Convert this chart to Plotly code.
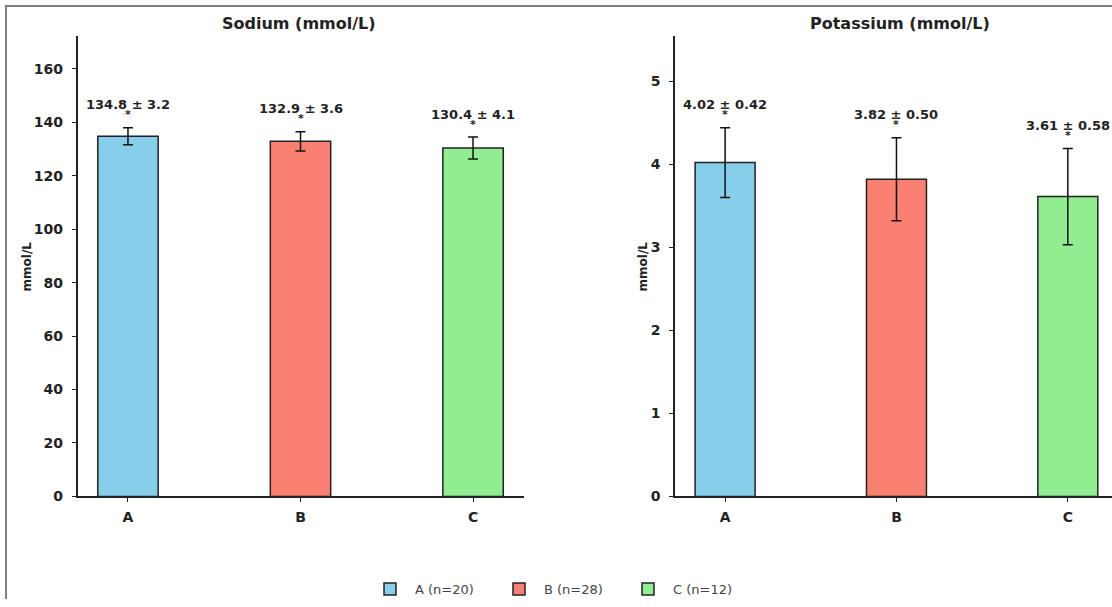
import plotly.graph_objects as go

groups = ["A", "B", "C"]
group_labels = ["A (n=20)", "B (n=28)", "C (n=12)"]
colors = ["#87CEEB", "#FA8072", "#90EE90"]

sodium_mean = [134.8, 132.9, 130.4]
sodium_sd = [3.2, 3.6, 4.1]
potassium_mean = [4.02, 3.82, 3.61]
potassium_sd = [0.42, 0.50, 0.58]

sodium_ticks = [0, 20, 40, 60, 80, 100, 120, 140, 160]
potassium_ticks = [0, 1, 2, 3, 4, 5]

W, H = 1112, 607
FONT = "DejaVu Sans"
DARK = "#222222"

fig = go.Figure()
xs = list(range(len(groups)))

def add_panel(means, sds, xa, ya, show):
    for i, g in enumerate(groups):
        fig.add_trace(go.Bar(
            x=[xs[i]], y=[means[i]], width=0.35,
            marker=dict(color=colors[i], line=dict(color=DARK, width=1.5)),
            error_y=dict(type="data", array=[sds[i]], color="#111111", thickness=1.5, width=5),
            name=group_labels[i], showlegend=show, legendgroup=g,
            xaxis=xa, yaxis=ya, hoverinfo="skip"))

add_panel(sodium_mean, sodium_sd, "x", "y", True)
add_panel(potassium_mean, potassium_sd, "x2", "y2", False)

na_top = max(m + s for m, s in zip(sodium_mean, sodium_sd)) * 1.25
k_top = max(m + s for m, s in zip(potassium_mean, potassium_sd)) * 1.25

annotations = []
def labels(means, sds, xref, yref, top, fmt):
    for i in xs:
        y0 = means[i] + sds[i]
        annotations.append(dict(x=i, y=y0 + 0.05 * top, xref=xref, yref=yref,
                                text=f"{means[i]:{fmt}} ± {sds[i]:{fmt}}", showarrow=False,
                                font=dict(family=FONT, size=13, color=DARK, weight="bold"),
                                xanchor="center", yanchor="middle"))
        annotations.append(dict(x=i, y=y0 + 0.028 * top, xref=xref, yref=yref,
                                text="*", showarrow=False,
                                font=dict(family=FONT, size=11, color=DARK, weight="bold"),
                                xanchor="center", yanchor="middle"))

labels(sodium_mean, sodium_sd, "x", "y", na_top, ".1f")
labels(potassium_mean, potassium_sd, "x2", "y2", k_top, ".2f")

# panel titles
annotations.append(dict(x=299 / W, y=1 - 24 / H, xref="paper", yref="paper", text="Sodium (mmol/L)",
                        showarrow=False, font=dict(family=FONT, size=16, color=DARK, weight="bold"),
                        xanchor="center", yanchor="middle"))
annotations.append(dict(x=900 / W, y=1 - 24 / H, xref="paper", yref="paper", text="Potassium (mmol/L)",
                        showarrow=False, font=dict(family=FONT, size=16, color=DARK, weight="bold"),
                        xanchor="center", yanchor="middle"))
for xp in (27, 643):
    annotations.append(dict(x=xp / W, y=1 - 270 / H, xref="paper", yref="paper", text="mmol/L",
                            showarrow=False, textangle=-90,
                            font=dict(family=FONT, size=12, color=DARK, weight="bold"),
                            xanchor="center", yanchor="middle"))

axis_common = dict(showline=True, linecolor=DARK, linewidth=1.5, ticks="outside",
                   ticklen=4, tickwidth=1.2, tickcolor=DARK, showgrid=False, zeroline=False,
                   tickfont=dict(family=FONT, size=14, color=DARK, weight="bold"))

fig.update_layout(
    width=W, height=H,
    margin=dict(l=0, r=0, t=0, b=0),
    paper_bgcolor="white", plot_bgcolor="white",
    barmode="overlay",
    xaxis=dict(domain=[77.5 / W, 523.5 / W], range=[-0.2925, 2.2925], tickvals=xs, ticktext=groups,
               anchor="y", ticklabelstandoff=3, **axis_common),
    yaxis=dict(domain=[104 / H, 571 / H], range=[0, na_top], tickvals=sodium_ticks,
               anchor="x", ticklabelstandoff=6, **axis_common),
    xaxis2=dict(domain=[675 / W, 1.0], range=[-0.2925, 2.2925 - 6 / 173], tickvals=xs, ticktext=groups,
                anchor="y2", ticklabelstandoff=3, **axis_common),
    yaxis2=dict(domain=[104 / H, 571 / H], range=[0, k_top], tickvals=potassium_ticks,
                anchor="x2", ticklabelstandoff=6, **axis_common),
    legend=dict(orientation="h", x=365 / W, xanchor="left", y=10 / H, yanchor="middle",
                entrywidth=74, entrywidthmode="pixels", itemwidth=40,
                font=dict(family=FONT, size=13, color="#444444"), bgcolor="rgba(0,0,0,0)"),
    annotations=annotations,
    shapes=[
        dict(type="line", xref="paper", yref="paper", x0=5 / W, x1=1, y0=1 - 6 / H, y1=1 - 6 / H,
             line=dict(color="#808080", width=2)),
        dict(type="line", xref="paper", yref="paper", x0=6 / W, x1=6 / W, y0=0, y1=1 - 5 / H,
             line=dict(color="#808080", width=2)),
    ],
)

fig.write_html("out.html")
